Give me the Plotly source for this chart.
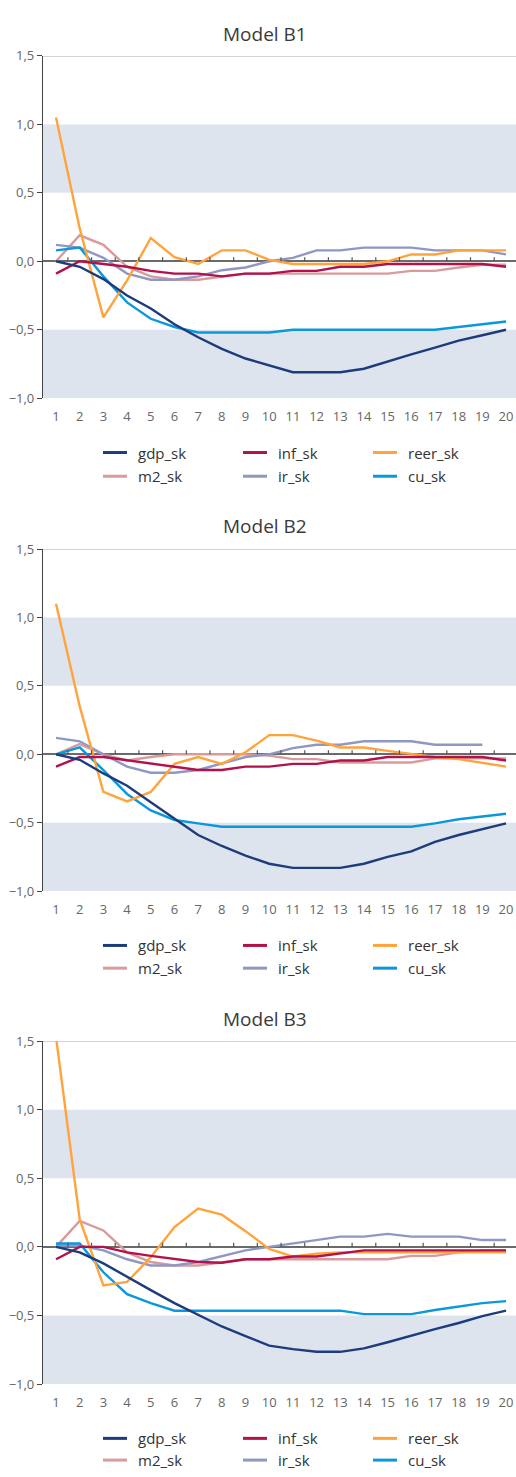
import plotly.graph_objects as go

periods = list(range(1, 21))
series_names = ["gdp_sk", "inf_sk", "reer_sk", "m2_sk", "ir_sk", "cu_sk"]
series_colors = ["#1c3c7c", "#b3114b", "#ffa43c", "#d99a9c", "#8f97c3", "#0a98dc"]
titles = ["Model B1", "Model B2", "Model B3"]
y_ticks = [-1.0, -0.5, 0.0, 0.5, 1.0, 1.5]

# Model B1
b1_gdp = [0.0, -0.04, -0.13, -0.25, -0.345, -0.46, -0.555, -0.64, -0.71, -0.76, -0.81, -0.81, -0.81, -0.785, -0.73, -0.68, -0.63, -0.58, -0.54, -0.5]
b1_inf = [-0.09, 0.0, -0.02, -0.04, -0.07, -0.09, -0.09, -0.11, -0.09, -0.09, -0.07, -0.07, -0.04, -0.04, -0.02, -0.02, -0.02, -0.02, -0.02, -0.04]
b1_reer = [1.05, 0.24, -0.41, -0.14, 0.17, 0.03, -0.02, 0.08, 0.08, 0.01, -0.02, -0.02, -0.02, -0.02, 0.0, 0.05, 0.05, 0.08, 0.08, 0.08]
b1_m2 = [0.0, 0.19, 0.12, -0.04, -0.11, -0.135, -0.135, -0.11, -0.09, -0.09, -0.09, -0.09, -0.09, -0.09, -0.09, -0.07, -0.07, -0.045, -0.025, -0.025]
b1_ir = [0.12, 0.1, 0.025, -0.09, -0.135, -0.135, -0.11, -0.065, -0.045, 0.0, 0.025, 0.08, 0.08, 0.1, 0.1, 0.1, 0.08, 0.08, 0.08, 0.05]
b1_cu = [0.08, 0.1, -0.11, -0.3, -0.42, -0.48, -0.52, -0.52, -0.52, -0.52, -0.5, -0.5, -0.5, -0.5, -0.5, -0.5, -0.5, -0.48, -0.46, -0.44]

# Model B2
b2_gdp = [0.0, -0.04, -0.14, -0.23, -0.35, -0.47, -0.59, -0.67, -0.74, -0.8, -0.83, -0.83, -0.83, -0.8, -0.75, -0.71, -0.64, -0.59, -0.55, -0.505]
b2_inf = [-0.09, -0.02, -0.02, -0.045, -0.07, -0.09, -0.115, -0.115, -0.09, -0.09, -0.07, -0.07, -0.045, -0.045, -0.02, -0.02, -0.02, -0.02, -0.02, -0.045]
b2_reer = [1.1, 0.35, -0.275, -0.345, -0.275, -0.07, -0.02, -0.07, 0.015, 0.14, 0.14, 0.1, 0.05, 0.05, 0.025, 0.0, -0.02, -0.035, -0.06, -0.09]
b2_m2 = [0.0, 0.075, 0.0, -0.045, -0.02, 0.0, 0.0, 0.0, 0.0, -0.01, -0.035, -0.035, -0.06, -0.06, -0.06, -0.06, -0.03, -0.03, -0.03, -0.03]
b2_ir = [0.12, 0.095, 0.0, -0.09, -0.135, -0.135, -0.115, -0.07, -0.02, 0.0, 0.045, 0.07, 0.07, 0.095, 0.095, 0.095, 0.07, 0.07, 0.07, None]
b2_cu = [0.0, 0.05, -0.115, -0.29, -0.41, -0.48, -0.505, -0.53, -0.53, -0.53, -0.53, -0.53, -0.53, -0.53, -0.53, -0.53, -0.505, -0.475, -0.455, -0.435]

# Model B3
b3_gdp = [0.0, -0.04, -0.12, -0.22, -0.315, -0.41, -0.495, -0.58, -0.65, -0.72, -0.745, -0.765, -0.765, -0.74, -0.695, -0.645, -0.6, -0.555, -0.505, -0.465]
b3_inf = [-0.09, 0.0, 0.0, -0.04, -0.065, -0.09, -0.11, -0.115, -0.09, -0.09, -0.07, -0.07, -0.045, -0.025, -0.025, -0.025, -0.025, -0.025, -0.025, -0.025]
b3_reer = [1.53, 0.2, -0.28, -0.255, -0.075, 0.145, 0.28, 0.235, 0.115, -0.015, -0.07, -0.05, -0.04, -0.04, -0.04, -0.04, -0.04, -0.04, -0.04, -0.04]
b3_m2 = [0.0, 0.19, 0.12, -0.04, -0.11, -0.135, -0.135, -0.11, -0.09, -0.09, -0.09, -0.09, -0.09, -0.09, -0.09, -0.065, -0.065, -0.04, -0.025, -0.025]
b3_ir = [0.01, 0.01, -0.025, -0.09, -0.135, -0.135, -0.11, -0.065, -0.025, 0.0, 0.025, 0.05, 0.075, 0.075, 0.095, 0.075, 0.075, 0.075, 0.05, 0.05]
b3_cu = [0.025, 0.025, -0.185, -0.345, -0.41, -0.465, -0.465, -0.465, -0.465, -0.465, -0.465, -0.465, -0.465, -0.49, -0.49, -0.49, -0.46, -0.435, -0.41, -0.395]

models = [
    [b1_gdp, b1_inf, b1_reer, b1_m2, b1_ir, b1_cu],
    [b2_gdp, b2_inf, b2_reer, b2_m2, b2_ir, b2_cu],
    [b3_gdp, b3_inf, b3_reer, b3_m2, b3_ir, b3_cu],
]

W, H = 516, 1477
FONT = "Open Sans"

def py(px):
    return 1 - px / H

def pxx(px):
    return px / W

# panel geometry (pixels): top, bottom of plot area, title y, legend row ys
panels = [
    dict(top=47.5, bottom=394, title=25, rows=(449, 473)),
    dict(top=546.7, bottom=893, title=523, rows=(948, 971)),
    dict(top=1045, bottom=1392, title=1022, rows=(1447, 1469)),
]
x_left = 43

fig = go.Figure()
shapes = []
annotations = []
draw_order = [3, 4, 5, 2, 1, 0]

for k, (model, pan) in enumerate(zip(models, panels)):
    xa = "x" if k == 0 else f"x{k+1}"
    ya = "y" if k == 0 else f"y{k+1}"
    for i in draw_order:
        fig.add_trace(go.Scatter(
            x=periods, y=model[i], mode="lines", name=series_names[i],
            line=dict(color=series_colors[i], width=2.4),
            xaxis=xa, yaxis=ya, showlegend=False, connectgaps=False,
        ))
    axkey = "" if k == 0 else str(k + 1)
    fig.layout["xaxis" + axkey] = dict(
        domain=[pxx(x_left), 1], range=[0.45, 20.42], anchor=ya,
        tickmode="array", tickvals=periods, ticktext=[str(p) for p in periods],
        showline=False, showgrid=False, zeroline=False,
        ticks="outside", ticklen=6, tickcolor="rgba(0,0,0,0)",
        tickfont=dict(family=FONT, size=13, color="#666666"),
    )
    fig.layout["yaxis" + axkey] = dict(
        domain=[py(pan["bottom"]), py(pan["top"])], range=[-1.0, 1.5], anchor=xa,
        tickmode="array", tickvals=y_ticks, tickformat=".1f",
        showline=True, linecolor="#444444", linewidth=1.2,
        ticks="outside", ticklen=5, tickcolor="#444444",
        showgrid=False, zeroline=True, zerolinecolor="#6a6a6a", zerolinewidth=1.6,
        tickfont=dict(family=FONT, size=13, color="#666666"),
    )
    xref = xa
    yref = ya
    for (y0, y1) in [(0.5, 1.0), (-1.0, -0.5)]:
        shapes.append(dict(type="rect", xref="paper", yref=yref,
                           x0=pxx(x_left), x1=1, y0=y0, y1=y1,
                           fillcolor="#dee4ee", line=dict(width=0), layer="below"))
    shapes.append(dict(type="line", xref="paper", yref=yref,
                       x0=pxx(x_left), x1=1, y0=1.5, y1=1.5,
                       line=dict(color="#c4c4c4", width=1.5), layer="below"))
    for p in periods[:-1]:
        shapes.append(dict(type="line", xref=xref, yref=yref,
                           x0=p + 0.5, x1=p + 0.5, y0=0, y1=0.03,
                           line=dict(color="#555555", width=1.2), layer="above"))
    annotations.append(dict(text=titles[k], xref="paper", yref="paper",
                            x=pxx(265), y=py(pan["title"]), xanchor="center", yanchor="middle",
                            showarrow=False, font=dict(family=FONT, size=19, color="#3a3a3a")))
    col_line_x = [103, 243, 373]
    for j, name in enumerate(series_names):
        r, c = divmod(j, 3)
        yy = py(pan["rows"][r])
        shapes.append(dict(type="line", xref="paper", yref="paper",
                           x0=pxx(col_line_x[c]), x1=pxx(col_line_x[c] + 24), y0=yy, y1=yy,
                           line=dict(color=series_colors[j], width=3)))
        annotations.append(dict(text=name, xref="paper", yref="paper",
                                x=pxx(col_line_x[c] + 33), y=yy, xanchor="left", yanchor="middle",
                                showarrow=False, font=dict(family=FONT, size=15, color="#333333")))

fig.update_layout(
    width=W, height=H, margin=dict(l=0, r=0, t=0, b=0),
    paper_bgcolor="white", plot_bgcolor="white",
    showlegend=False, separators=", ",
    shapes=shapes, annotations=annotations,
)

fig.write_html(
    "out.html",
    config={"displayModeBar": False},
    post_script="document.body.style.margin='0px';document.body.style.padding='0px';document.body.style.overflow='hidden';",
)
